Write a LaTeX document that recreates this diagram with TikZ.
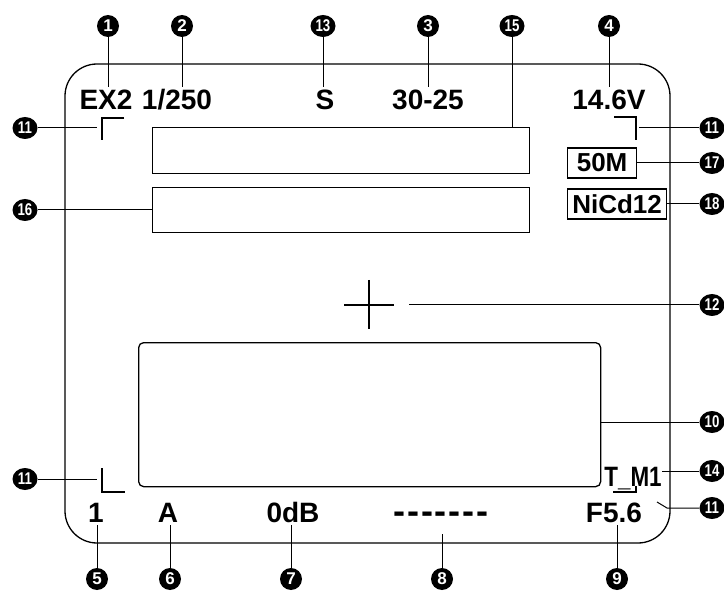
\documentclass[tikz,border=0pt]{standalone}
\usepackage{graphicx}
\usepackage{fontspec}
\setmainfont{Liberation Sans}
\usepackage{tikz}
\usetikzlibrary{shapes.geometric}

\newcommand{\twodig}[1]{\scalebox{0.78}[1]{#1}}

\begin{document}
\begin{tikzpicture}[
    x=1pt, y=-1pt,
    frame/.style={line width=1.3pt, rounded corners=32pt},
    lcd/.style={font=\fontsize{28}{28}\selectfont\bfseries, inner sep=3pt},
    boxed/.style={draw, line width=1.2pt, anchor=west, inner sep=0pt, minimum height=30pt,
        font=\fontsize{26}{26}\selectfont\bfseries},
    panel/.style={draw, line width=1.3pt, anchor=north west, inner sep=0pt},
    cornermark/.style={line width=1.2pt},
    leader/.style={line width=1pt},
    callout/.style={circle, fill=black, text=white, inner sep=0pt, minimum size=22pt,
        font=\fontsize{17}{17}\selectfont\bfseries},
    callwide/.style={callout, ellipse, minimum width=25pt, minimum height=22pt}
    ]
    \useasboundingbox (0,0) rectangle (724,591);

    % display outline
    \draw[frame] (65,64) rectangle (670,543);

    % top row
    \node[lcd, anchor=base] (ex2) at (106,110) {EX2};
    \node[lcd, anchor=base] (shut) at (177,110) {1/250};
    \node[lcd, anchor=base] (sv) at (325,110) {S};
    \node[lcd, anchor=base] (rng) at (428,110) {30-25};
    \node[lcd, anchor=base] (volt) at (609,110) {14.6V};

    % bottom row
    \node[lcd, anchor=base] (one) at (96,522) {1};
    \node[lcd, anchor=base] (mode) at (168,522) {A};
    \node[lcd, anchor=base] (gain) at (293,522) {0dB};
    \node[lcd, anchor=base, font=\fontsize{36}{36}\selectfont\bfseries] (bars) at (441,523)
        {-\kern1.7pt-\kern1.7pt-\kern1.7pt-\kern1.7pt-\kern1.7pt-\kern1.7pt-};
    \node[lcd, anchor=base] (fno) at (614,522) {F5.6};

    % panels
    \node[panel, minimum width=377pt, minimum height=46pt] (r15) at (152,127) {};
    \node[panel, minimum width=377pt, minimum height=45pt] (r16) at (152,187) {};
    \node[panel, rounded corners=5pt, minimum width=462pt, minimum height=144pt] (r10) at (138,342) {};
    \node[boxed, minimum width=69pt] (box50) at (567,163) {50M};
    \node[boxed, minimum width=99pt] (nicd) at (567,204) {NiCd12};

    % frame corners and aim mark
    \draw[cornermark] (124,118) -- (102,118) -- (102,140);
    \draw[cornermark] (614,117) -- (636,117) -- (636,140);
    \draw[cornermark] (102,468) -- (102,492) -- (125,492);
    \draw[cornermark] (636,468) -- (636,492) -- (613,492);
    \draw[cornermark] (344,305) -- (394,305) (369,280) -- (369,329);
    \node[lcd, anchor=base, fill=white, inner sep=0pt, text depth=0pt] (tm) at (633,486) {\scalebox{0.8}[1]{T\_M1}};

    \coordinate (tltip) at (97,128);
    \coordinate (bltip) at (97,479);
    \coordinate (trtip) at (639,128);
    \coordinate (brknee) at (667,508);
    \coordinate (brtip) at (657,502);
    \coordinate (aim) at (409,305);

    % callouts
    \node[callout] (n1) at (108,26) {1};
    \node[callout] (n2) at (182,26) {2};
    \node[callwide] (n13) at (323,26) {\twodig{13}};
    \node[callout] (n3) at (428,26) {3};
    \node[callwide] (n15) at (512,26) {\twodig{15}};
    \node[callout] (n4) at (609,26) {4};
    \node[callout] (n5) at (97,579) {5};
    \node[callout] (n6) at (170,579) {6};
    \node[callout] (n7) at (291,579) {7};
    \node[callout] (n8) at (442,579) {8};
    \node[callout] (n9) at (617,579) {9};
    \node[callwide] (n11a) at (25,128) {\twodig{11}};
    \node[callwide] (n16) at (25,210) {\twodig{16}};
    \node[callwide] (n11b) at (25,479) {\twodig{11}};
    \node[callwide] (n11c) at (712,128) {\twodig{11}};
    \node[callwide] (n17) at (712,163) {\twodig{17}};
    \node[callwide] (n18) at (712,204) {\twodig{18}};
    \node[callwide] (n12) at (712,305) {\twodig{12}};
    \node[callwide] (n10) at (712,422) {\twodig{10}};
    \node[callwide] (n14) at (712,471) {\twodig{14}};
    \node[callwide] (n11d) at (712,508) {\twodig{11}};

    \draw[leader] (n1) -- (n1 |- ex2.north);
    \draw[leader] (n2) -- (n2 |- shut.north);
    \draw[leader] (n13) -- (n13 |- sv.north);
    \draw[leader] (n3) -- (n3 |- rng.north);
    \draw[leader] (n15) -- (n15 |- r15.north);
    \draw[leader] (n4) -- (n4 |- volt.north);
    \draw[leader] (n5) -- (n5 |- one.south);
    \draw[leader] (n6) -- (n6 |- mode.south);
    \draw[leader] (n7) -- (n7 |- gain.south);
    \draw[leader] (n8) -- ([yshift=-8pt]n8 |- bars.south);
    \draw[leader] (n9) -- (n9 |- fno.south);
    \draw[leader] (n11a) -- (tltip);
    \draw[leader] (n16) -- (n16 -| r16.west);
    \draw[leader] (n11b) -- (bltip);
    \draw[leader] (n11c) -- (trtip);
    \draw[leader] (n17) -- (n17 -| box50.east);
    \draw[leader] (n18) -- (n18 -| nicd.east);
    \draw[leader] (n12) -- (aim);
    \draw[leader] (n10) -- (n10 -| r10.east);
    \draw[leader] (n14) -- (n14 -| tm.east);
    \draw[leader] (n11d) -- (brknee) -- (brtip);
\end{tikzpicture}
\end{document}
